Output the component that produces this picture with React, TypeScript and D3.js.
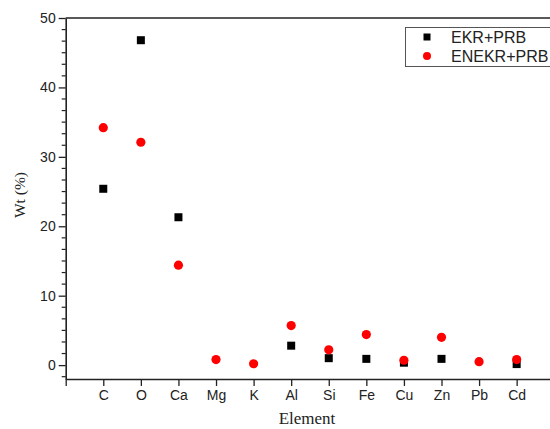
import React, { useEffect, useRef } from "react";
import * as d3 from "d3";

const elements = ["C", "O", "Ca", "Mg", "K", "Al", "Si", "Fe", "Cu", "Zn", "Pb", "Cd"];
const ekrPrb: (number | null)[] = [25.4, 46.8, 21.3, null, null, 2.8, 1.0, 0.9, 0.35, 0.9, null, 0.15];
const enekrPrb: (number | null)[] = [34.2, 32.1, 14.4, 0.8, 0.2, 5.7, 2.2, 4.4, 0.7, 4.0, 0.5, 0.8];
const yMajorTicks = [0, 10, 20, 30, 40, 50];
const seriesNames = ["EKR+PRB", "ENEKR+PRB"];

const W = 550;
const H = 429;

export default function App() {
  const ref = useRef<SVGSVGElement>(null);

  useEffect(() => {
    const svg = d3.select(ref.current);
    svg.selectAll("*").remove();

    const x = d3.scaleLinear().domain([0, 13]).range([65.7, 65.7 + 13 * 37.58]);
    const y = d3.scaleLinear().domain([-2, 50]).range([379, 18]);
    const axisColor = "#222";

    // top border line
    svg.append("line")
      .attr("x1", x(0)).attr("x2", W)
      .attr("y1", y(50)).attr("y2", y(50))
      .attr("stroke", axisColor).attr("stroke-width", 1.6);

    // minor y ticks
    const minor: number[] = [];
    for (let k = -10; k < 50; k += 10) {
      for (let i = 1; i <= 5; i++) {
        const v = k + (i * 10) / 6;
        if (v >= -2 && v <= 50) minor.push(v);
      }
    }
    svg.append("g").selectAll("line").data(minor).join("line")
      .attr("x1", x(0) - 4).attr("x2", x(0))
      .attr("y1", (d) => y(d)).attr("y2", (d) => y(d))
      .attr("stroke", axisColor).attr("stroke-width", 1.2);

    const yAxis = svg.append("g")
      .attr("transform", `translate(${x(0)},0)`)
      .call(d3.axisLeft(y).tickValues(yMajorTicks).tickSize(7).tickSizeOuter(0).tickPadding(3));
    yAxis.select(".domain").attr("stroke", axisColor).attr("stroke-width", 1.6);
    yAxis.selectAll(".tick line").attr("stroke", axisColor).attr("stroke-width", 1.3);
    yAxis.selectAll(".tick text")
      .attr("font-family", "'Liberation Sans', Arial, sans-serif")
      .attr("font-size", 14).attr("fill", "#222");

    const xAxis = svg.append("g")
      .attr("transform", `translate(0,${y(-2)})`)
      .call(
        d3.axisBottom(x)
          .tickValues(d3.range(0, elements.length + 1))
          .tickFormat((d) => ((d as number) === 0 ? "" : elements[(d as number) - 1]))
          .tickSize(7).tickSizeOuter(0).tickPadding(4)
      );
    xAxis.select(".domain").attr("stroke", axisColor).attr("stroke-width", 1.6);
    xAxis.selectAll(".tick line").attr("stroke", axisColor).attr("stroke-width", 1.3);
    xAxis.selectAll(".tick text")
      .attr("font-family", "'Liberation Sans', Arial, sans-serif")
      .attr("font-size", 14).attr("fill", "#222");

    // axis titles
    svg.append("text")
      .attr("transform", `translate(25,195) rotate(-90)`)
      .attr("text-anchor", "middle")
      .attr("font-family", "'Liberation Serif', 'Times New Roman', serif")
      .attr("font-size", 15.5).attr("fill", "#222")
      .text("Wt (%)");
    svg.append("text")
      .attr("x", 307).attr("y", 424)
      .attr("text-anchor", "middle")
      .attr("font-family", "'Liberation Serif', 'Times New Roman', serif")
      .attr("font-size", 17).attr("fill", "#222")
      .text("Element");

    // data
    const sq = 8;
    svg.append("g").selectAll("rect")
      .data(ekrPrb.map((v, i) => ({ v, i })).filter((d) => d.v !== null))
      .join("rect")
      .attr("x", (d) => x(d.i + 1) - sq / 2)
      .attr("y", (d) => y(d.v as number) - sq / 2)
      .attr("width", sq).attr("height", sq)
      .attr("fill", "#000");
    svg.append("g").selectAll("circle")
      .data(enekrPrb.map((v, i) => ({ v, i })).filter((d) => d.v !== null))
      .join("circle")
      .attr("cx", (d) => x(d.i + 1))
      .attr("cy", (d) => y(d.v as number))
      .attr("r", 4.6)
      .attr("fill", "#ff0000");

    // legend
    const lg = svg.append("g");
    lg.append("rect")
      .attr("x", 405.5).attr("y", 27.5).attr("width", 160).attr("height", 39)
      .attr("fill", "#fff").attr("stroke", "#555").attr("stroke-width", 1);
    lg.append("rect")
      .attr("x", 427 - 3.5).attr("y", 37 - 3.5).attr("width", 7).attr("height", 7)
      .attr("fill", "#000");
    lg.append("circle").attr("cx", 427).attr("cy", 56).attr("r", 4).attr("fill", "#ff0000");
    seriesNames.forEach((n, i) => {
      lg.append("text")
        .attr("x", 451).attr("y", 43 + i * 19)
        .attr("font-family", "'Liberation Sans', Arial, sans-serif")
        .attr("font-size", 16).attr("fill", "#222")
        .text(n);
    });
  }, []);

  return (
    <svg
      ref={ref}
      width={W}
      height={H}
      style={{ position: "absolute", left: 0, top: 0, background: "#fff" }}
    />
  );
}
